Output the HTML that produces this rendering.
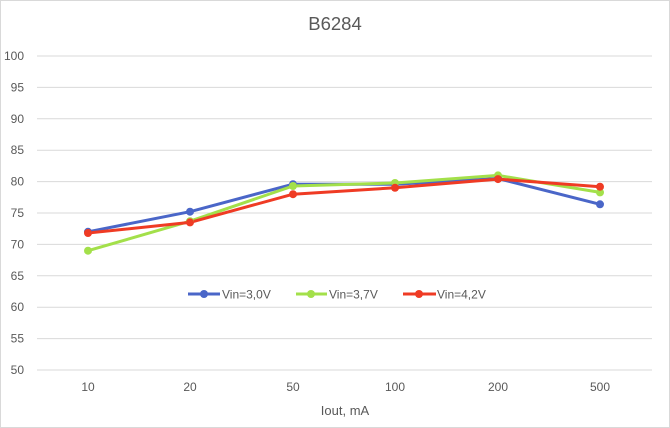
<!DOCTYPE html>
<html><head><style>body{margin:0;background:#fff}svg{display:block}text{font-family:"Liberation Sans",sans-serif;fill:#595959}</style></head>
<body>
<svg width="670" height="428" viewBox="0 0 670 428" xmlns="http://www.w3.org/2000/svg">
<rect x="0.5" y="0.5" width="669" height="427" fill="#fff" stroke="#d9d9d9"/>
<text x="335" y="30" font-size="18.5" text-anchor="middle">B6284</text>
<g stroke="#d9d9d9" stroke-width="1">
<line x1="37" x2="652" y1="56" y2="56"/><line x1="37" x2="652" y1="87.4" y2="87.4"/><line x1="37" x2="652" y1="118.8" y2="118.8"/><line x1="37" x2="652" y1="150.2" y2="150.2"/><line x1="37" x2="652" y1="181.6" y2="181.6"/><line x1="37" x2="652" y1="213" y2="213"/><line x1="37" x2="652" y1="244.4" y2="244.4"/><line x1="37" x2="652" y1="275.8" y2="275.8"/><line x1="37" x2="652" y1="307.2" y2="307.2"/><line x1="37" x2="652" y1="338.6" y2="338.6"/><line x1="37" x2="652" y1="370" y2="370"/>
</g>
<g font-size="12" text-anchor="end">
<text x="24" y="60">100</text><text x="24" y="91.4">95</text><text x="24" y="122.8">90</text><text x="24" y="154.2">85</text><text x="24" y="185.6">80</text><text x="24" y="217">75</text><text x="24" y="248.4">70</text><text x="24" y="279.8">65</text><text x="24" y="311.2">60</text><text x="24" y="342.6">55</text><text x="24" y="374">50</text>
</g>
<g font-size="12" text-anchor="middle">
<text x="88" y="391">10</text><text x="190" y="391">20</text><text x="293" y="391">50</text><text x="395" y="391">100</text><text x="498" y="391">200</text><text x="600" y="391">500</text>
</g>
<text x="345" y="415" font-size="13" text-anchor="middle">Iout, mA</text>
<g fill="none" stroke-width="3" stroke-linejoin="round">
<polyline stroke="#4a66c8" points="88,231.8 190,211.7 293,184.2 395,184.2 498,178.5 600,204.3"/>
<polyline stroke="#a3e04a" points="88,250.7 190,221.2 293,186.0 395,183.0 498,175.4 600,192.4"/>
<polyline stroke="#ef3b24" points="88,233.0 190,222.4 293,194.2 395,187.8 498,179.1 600,186.7"/>
</g>
<g fill="#4a66c8"><circle cx="88" cy="231.8" r="4"/><circle cx="190" cy="211.7" r="4"/><circle cx="293" cy="184.2" r="4"/><circle cx="395" cy="184.2" r="4"/><circle cx="498" cy="178.5" r="4"/><circle cx="600" cy="204.3" r="4"/></g>
<g fill="#a3e04a"><circle cx="88" cy="250.7" r="4"/><circle cx="190" cy="221.2" r="4"/><circle cx="293" cy="186.0" r="4"/><circle cx="395" cy="183.0" r="4"/><circle cx="498" cy="175.4" r="4"/><circle cx="600" cy="192.4" r="4"/></g>
<g fill="#ef3b24"><circle cx="88" cy="233.0" r="4"/><circle cx="190" cy="222.4" r="4"/><circle cx="293" cy="194.2" r="4"/><circle cx="395" cy="187.8" r="4"/><circle cx="498" cy="179.1" r="4"/><circle cx="600" cy="186.7" r="4"/></g>
<g stroke-width="3">
<line x1="188" x2="220" y1="294" y2="294" stroke="#4a66c8"/><circle cx="204" cy="294" r="4" fill="#4a66c8"/>
<line x1="296" x2="327" y1="294" y2="294" stroke="#a3e04a"/><circle cx="311" cy="294" r="4" fill="#a3e04a"/>
<line x1="403" x2="436" y1="294" y2="294" stroke="#ef3b24"/><circle cx="419" cy="294" r="4" fill="#ef3b24"/>
</g>
<g font-size="12"><text x="222" y="298.5">Vin=3,0V</text><text x="329" y="298.5">Vin=3,7V</text><text x="437" y="298.5">Vin=4,2V</text></g>
</svg>
</body></html>
